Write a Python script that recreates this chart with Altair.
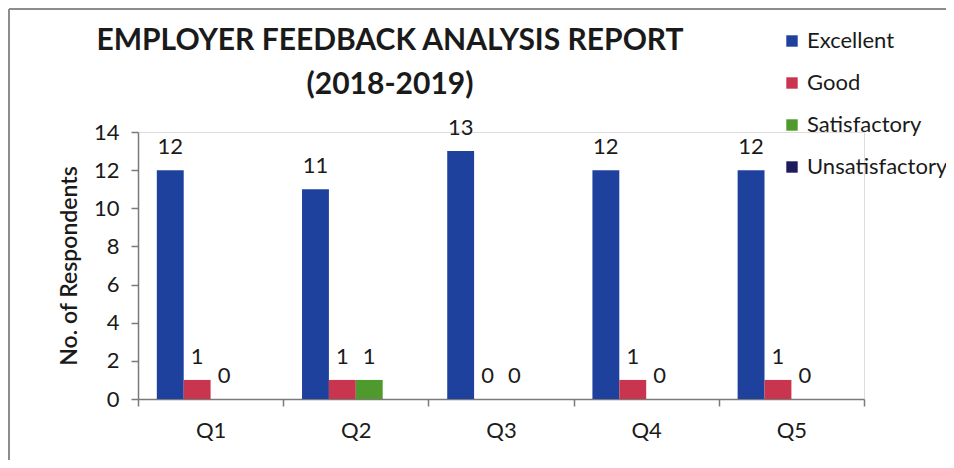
import altair as alt
import pandas as pd

questions = ["Q1", "Q2", "Q3", "Q4", "Q5"]
series = ["Excellent", "Good", "Satisfactory", "Unsatisfactory"]
excellent = [12, 11, 13, 12, 12]
good = [1, 1, 0, 1, 1]
satisfactory = [0, 1, 0, 0, 0]
unsatisfactory = [None, None, None, None, None]
colors = ["#1f419e", "#c9344f", "#4f9a2c", "#1d1b5c"]
title_lines = ["EMPLOYER FEEDBACK ANALYSIS REPORT", "(2018-2019)"]

rows = []
for i, q in enumerate(questions):
    for s, vals in zip(series, [excellent, good, satisfactory, unsatisfactory]):
        rows.append({"question": q, "rating": s, "value": vals[i]})
df = pd.DataFrame(rows)

FONT = "Lato"
AX = "#7a7a7a"
TXT = "#1a1a1a"

x_enc = alt.X("question:N", sort=questions,
              scale=alt.Scale(paddingInner=0, paddingOuter=0),
              axis=alt.Axis(title=None, labelAngle=0, labelFontSize=22, labelFont=FONT,
                            labelColor=TXT, labelPadding=14, tickBand="extent",
                            tickSize=7, tickColor=AX, domainColor=AX, domainWidth=1.5,
                            tickWidth=1.5))
xo_enc = alt.XOffset("rating:N", sort=series,
                     scale=alt.Scale(domain=series, paddingInner=0, paddingOuter=0.7))
y_enc = alt.Y("value:Q", scale=alt.Scale(domain=[0, 14]),
              axis=alt.Axis(title="No. of Respondents", values=[0, 2, 4, 6, 8, 10, 12, 14],
                            labelOverlap=False,
                            grid=False, labelFontSize=22, labelFont=FONT, labelColor=TXT,
                            labelPadding=12, tickSize=7, tickColor=AX, domainColor=AX,
                            domainWidth=1.5, tickWidth=1.5,
                            titleFont=FONT, titleFontSize=23, titleFontWeight=600,
                            titleColor=TXT, titlePadding=12))

base = alt.Chart(df)

bars = base.mark_bar().encode(
    x=x_enc,
    xOffset=xo_enc,
    y=y_enc,
    color=alt.Color("rating:N", sort=series,
                    scale=alt.Scale(domain=series, range=colors),
                    legend=alt.Legend(title=None, orient="none", legendX=643, legendY=-102,
                                      symbolType="square", symbolSize=130, symbolStrokeWidth=0,
                                      labelFontSize=22, labelFont=FONT, labelColor=TXT,
                                      rowPadding=20, labelOffset=4, padding=0)),
)

labels = base.transform_filter("datum.value != null").mark_text(
    baseline="bottom", dy=-11, fontSize=22, font=FONT, color=TXT
).encode(
    x=x_enc,
    xOffset=xo_enc,
    y=y_enc,
    text="value:Q",
)

edges = pd.DataFrame({"edge": ["left"]})
frame_left = alt.Chart(edges).mark_rule(color="#8c8c8c", strokeWidth=2).encode(
    x=alt.value(-129), y=alt.value(-123), y2=alt.value(340), detail="edge:N")
edges2 = pd.DataFrame({"edge": ["top"]})
frame_top = alt.Chart(edges2).mark_rule(color="#8c8c8c", strokeWidth=2).encode(
    y=alt.value(-123), x=alt.value(-129), x2=alt.value(830), detail="edge:N")

title1 = alt.Chart(pd.DataFrame({"t": [title_lines[0]]})).mark_text(
    font=FONT, fontSize=30, fontWeight="bold", color=TXT, align="center", baseline="alphabetic"
).encode(x=alt.value(252), y=alt.value(-82), text="t:N")
title2 = alt.Chart(pd.DataFrame({"t": [title_lines[1]]})).mark_text(
    font=FONT, fontSize=30, fontWeight="bold", color=TXT, align="center", baseline="alphabetic"
).encode(x=alt.value(252), y=alt.value(-38), text="t:N")

chart = alt.layer(bars, labels, frame_left, frame_top, title1, title2).properties(
    width=726, height=267,
    autosize=alt.AutoSizeParams(type="none"),
    padding={"left": 130, "top": 124, "right": 82, "bottom": 61},
).configure_view(stroke=None).configure(background="white")

chart.save("out.html", embed_options={"renderer": "svg", "actions": False})
